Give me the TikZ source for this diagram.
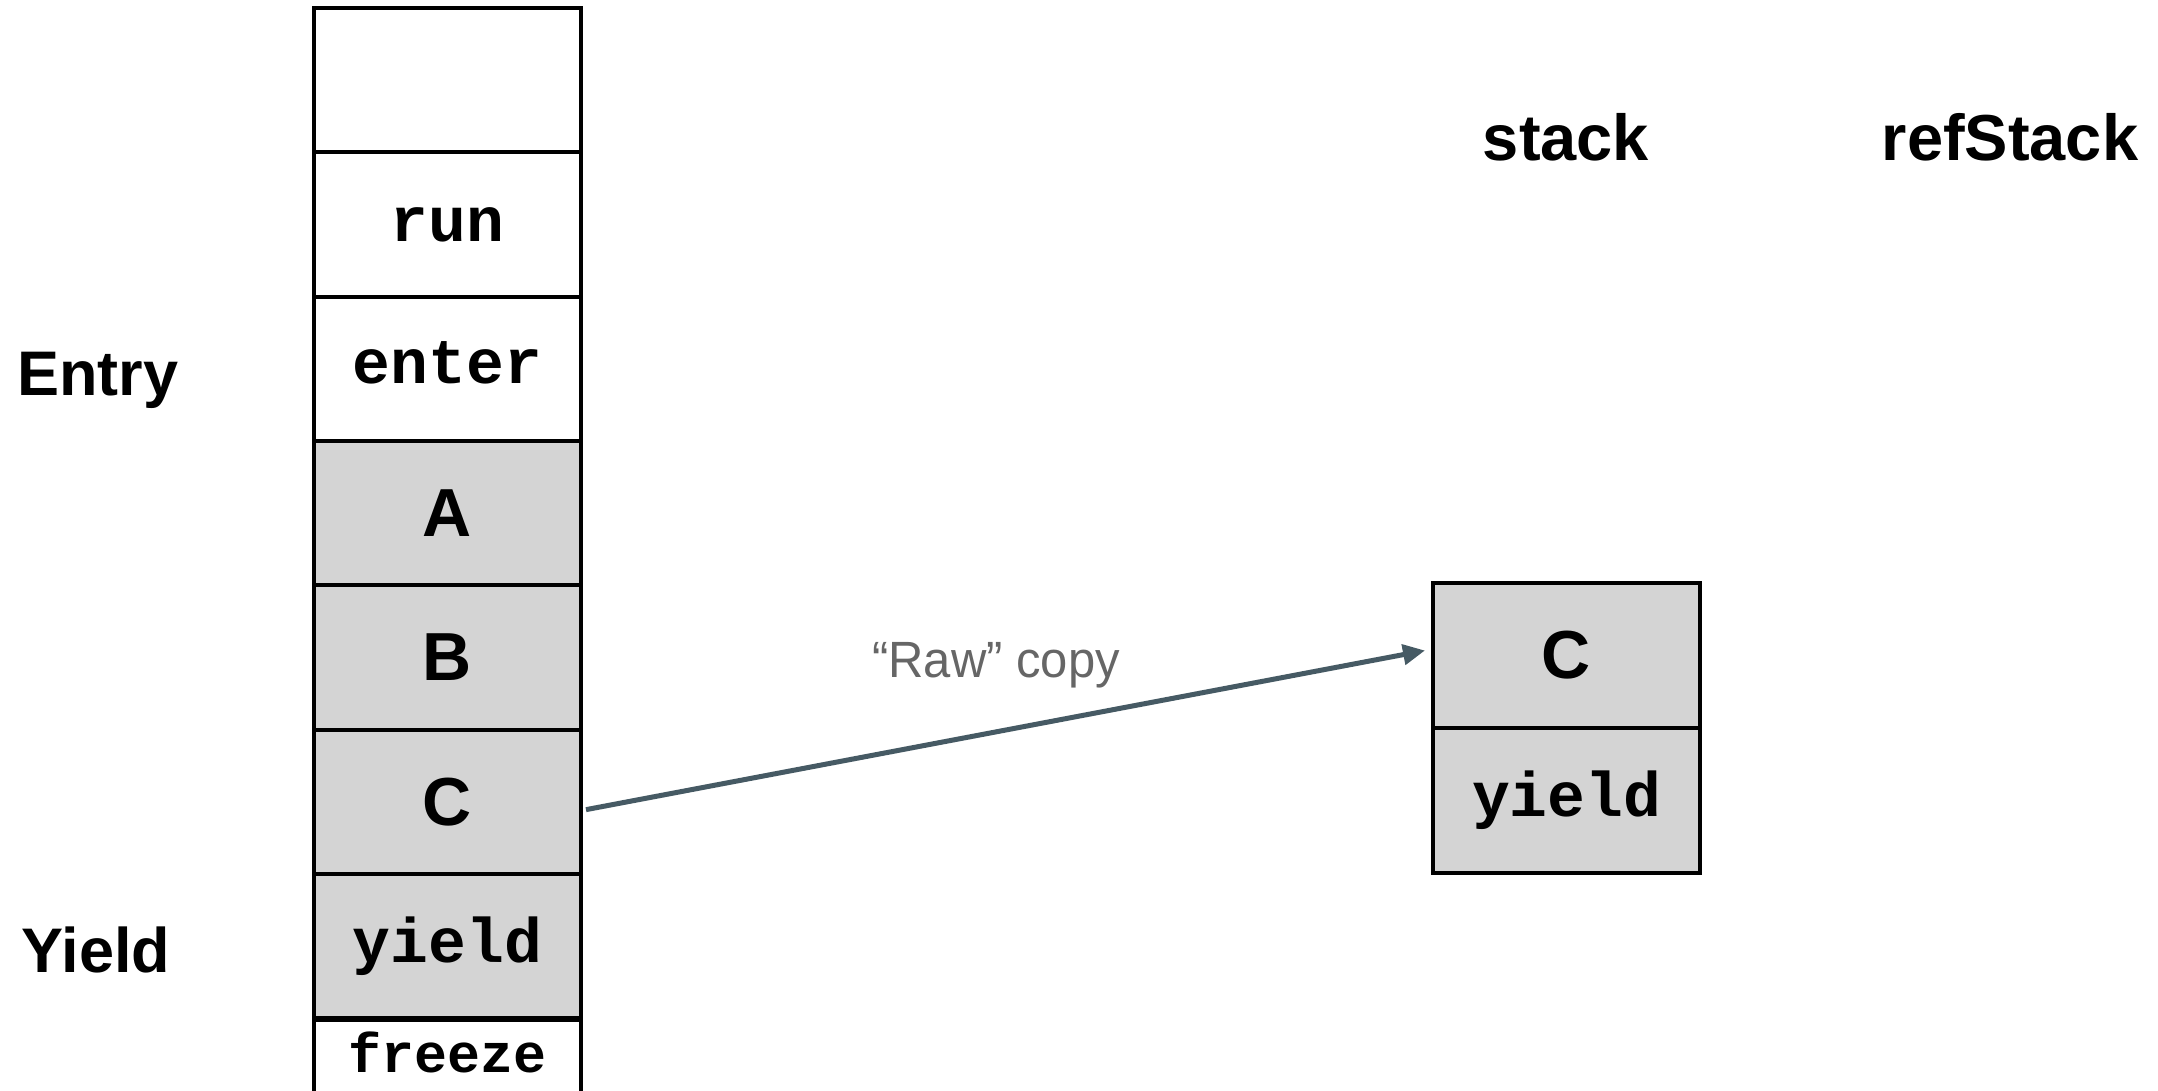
\documentclass[tikz,border=0pt]{standalone}
\usepackage{fontspec}
\setmainfont{Liberation Sans}
\setmonofont{Liberation Mono}
\usetikzlibrary{arrows.meta}
\definecolor{cellgray}{HTML}{D4D4D4}
\definecolor{arrowcol}{HTML}{465A64}
\definecolor{labgray}{HTML}{666666}
\tikzset{
  cell/.style={draw=black, line width=4pt, minimum width=267pt, minimum height=144.3pt, inner sep=0pt, anchor=center},
  gcell/.style={cell, fill=cellgray},
  wcell/.style={cell, fill=white},
  monolab/.style={font=\fontsize{63}{63}\selectfont\ttfamily\bfseries},
  boldlab/.style={font=\fontsize{68}{68}\selectfont\bfseries},
  sidelab/.style={font=\fontsize{65}{65}\selectfont\bfseries, anchor=base},
  copyarrow/.style={draw=arrowcol, line width=5pt, -{Triangle[length=22pt,width=20pt]}},
}
\begin{document}
\begin{tikzpicture}[x=1pt,y=-1pt]
\useasboundingbox (0,0) rectangle (2158,1091);
% left column
\node[wcell] (l0) at (447.5,80.15) {};
\node[wcell, monolab] (lrun) at (447.5,224.45) {run};
\node[wcell, monolab] (lenter) at (447.5,368.75) {\raisebox{13pt}{enter}};
\node[gcell, boldlab] (lA) at (447.5,513.05) {A};
\node[gcell, boldlab] (lB) at (447.5,657.35) {B};
\node[gcell, boldlab] (lC) at (447.5,801.65) {C};
\node[gcell, monolab] (lyield) at (447.5,945.95) {yield};
\node[wcell, minimum height=76pt, font=\fontsize{55}{55}\selectfont\ttfamily\bfseries, anchor=north] (lfreeze) at (447.5,1018.1) {\raisebox{11pt}{freeze}};
% right column
\node[gcell, boldlab, minimum height=145pt] (rC) at (1566.5,655.5) {C};
\node[gcell, monolab, minimum height=145pt] (ryield) at (1566.5,800.5) {yield};
% labels
\node[sidelab] (stack) at (1566,161) {stack};
\node[sidelab] (refstack) at (2010,161) {refStack};
\node[sidelab, font=\fontsize{63}{63}\selectfont\bfseries] (entry) at (98,395) {Entry};
\node[sidelab, font=\fontsize{63}{63}\selectfont\bfseries] (yieldlab) at (96,972) {Yield};
\node[anchor=base, text=labgray, font=\fontsize{51}{51}\selectfont, xscale=0.96] (raw) at (996,677) {“Raw” copy};
% arrow
\draw[copyarrow] ([xshift=3pt,yshift=-8pt]lC.east) -- ([xshift=-6pt,yshift=5pt]rC.west);
\end{tikzpicture}
\end{document}
